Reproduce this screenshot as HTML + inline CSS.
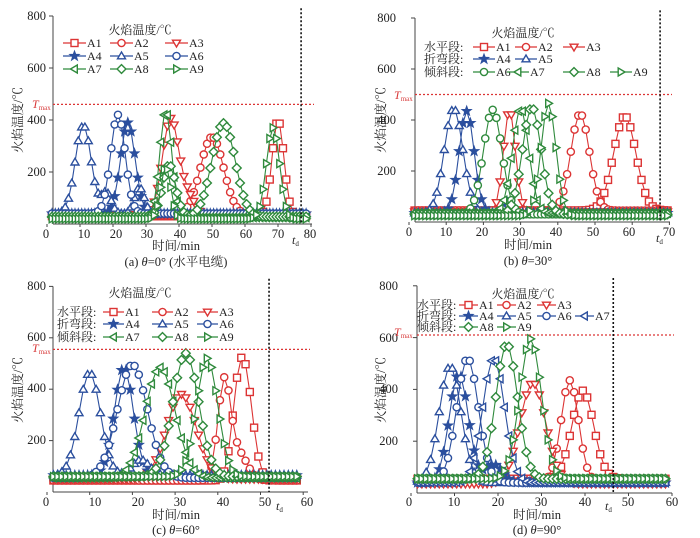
<!DOCTYPE html>
<html><head><meta charset="utf-8">
<style>
html,body{margin:0;padding:0;background:#fff;}
svg{display:block;font-family:"Liberation Serif","Noto Serif CJK SC",serif;}
.t{font-size:12.5px;fill:#222;}
.l{font-size:12px;fill:#222;}
</style></head>
<body>
<svg id="s" width="700" height="538" viewBox="0 0 700 538" xmlns="http://www.w3.org/2000/svg">
<g id="plots"></g>
<g class="t" text-anchor="end">
<text x="46" y="20">800</text><text x="46" y="72">600</text><text x="46" y="124">400</text><text x="46" y="176">200</text>
<text x="396" y="22">800</text><text x="396" y="73">600</text><text x="396" y="124">400</text><text x="396" y="175">200</text>
<text x="46" y="290">800</text><text x="46" y="341">600</text><text x="46" y="392">400</text><text x="46" y="444">200</text>
<text x="398" y="290">800</text><text x="398" y="342">600</text><text x="398" y="393">400</text><text x="398" y="445">200</text>
</g>
<g class="t" text-anchor="middle">
<text x="46" y="238">0</text><text x="84" y="238">10</text><text x="116" y="238">20</text><text x="147" y="238">30</text><text x="180" y="238">40</text><text x="213" y="238">50</text><text x="246" y="238">60</text><text x="278" y="238">70</text><text x="310" y="238">80</text>
<text x="409" y="236">0</text><text x="446" y="236">10</text><text x="482" y="236">20</text><text x="519" y="236">30</text><text x="556" y="236">40</text><text x="593" y="236">50</text><text x="629" y="236">60</text><text x="669" y="236">70</text>
<text x="46" y="506">0</text><text x="95" y="506">10</text><text x="138" y="506">20</text><text x="180" y="506">30</text><text x="223" y="506">40</text><text x="265" y="506">50</text><text x="307" y="506">60</text>
<text x="409" y="506">0</text><text x="454" y="506">10</text><text x="498" y="506">20</text><text x="541" y="506">30</text><text x="585" y="506">40</text><text x="628" y="506">50</text><text x="672" y="506">60</text>
<text x="176" y="250">时间/min</text><text x="176" y="266">(a) <tspan font-style="italic">θ</tspan>=0° (水平电缆)</text>
<text x="528" y="249">时间/min</text><text x="528" y="265">(b) <tspan font-style="italic">θ</tspan>=30°</text>
<text x="176" y="519">时间/min</text><text x="176" y="534">(c) <tspan font-style="italic">θ</tspan>=60°</text>
<text x="537" y="519">时间/min</text><text x="537" y="534">(d) <tspan font-style="italic">θ</tspan>=90°</text>
</g>
<g class="t" text-anchor="middle">
<text transform="translate(22,120) rotate(-90)">火焰温度/℃</text>
<text transform="translate(385,120) rotate(-90)">火焰温度/℃</text>
<text transform="translate(22,390) rotate(-90)">火焰温度/℃</text>
<text transform="translate(385,390) rotate(-90)">火焰温度/℃</text>
</g>
<g fill="#d83a3a" font-style="italic" font-size="12">
<text x="32" y="108">T<tspan font-size="7" font-style="normal" dy="2">max</tspan></text>
<text x="394" y="99">T<tspan font-size="7" font-style="normal" dy="2">max</tspan></text>
<text x="32" y="352">T<tspan font-size="7" font-style="normal" dy="2">max</tspan></text>
<text x="394" y="336">T<tspan font-size="7" font-style="normal" dy="2">max</tspan></text>
</g>
<g font-style="italic" font-size="12" fill="#222">
<text x="292" y="244">t<tspan font-size="7" font-style="normal" dy="2">d</tspan></text>
<text x="656" y="242">t<tspan font-size="7" font-style="normal" dy="2">d</tspan></text>
<text x="276" y="510">t<tspan font-size="7" font-style="normal" dy="2">d</tspan></text>
<text x="605" y="510">t<tspan font-size="7" font-style="normal" dy="2">d</tspan></text>
</g>
<g class="l" text-anchor="middle">
<text x="140" y="34">火焰温度/℃</text>
<text x="523" y="37">火焰温度/℃</text>
<text x="140" y="297">火焰温度/℃</text>
<text x="523" y="298">火焰温度/℃</text>
</g>
<g class="l">
<text x="424" y="51">水平段:</text><text x="424" y="63">折弯段:</text><text x="424" y="76">倾斜段:</text>
<text x="57" y="316">水平段:</text><text x="57" y="328">折弯段:</text><text x="57" y="341">倾斜段:</text>
<text x="417" y="309">水平段:</text><text x="417" y="320">折弯段:</text><text x="417" y="331">倾斜段:</text>
</g>
<g id="leg"></g>
</svg>
<script>
var NS="http://www.w3.org/2000/svg";
var R="#dc3434",B="#2b4f9e",G="#2f8a3c";
function el(p,n,a){var e=document.createElementNS(NS,n);for(var k in a)e.setAttribute(k,a[k]);p.appendChild(e);return e;}
function marker(g,m,x,y,c){var r=4,a={fill:"#fff",stroke:c,"stroke-width":1.4};
 if(m=="sq"){a.x=x-r+0.5;a.y=y-r+0.5;a.width=2*r-1;a.height=2*r-1;el(g,"rect",a);return;}
 if(m=="ci"){a.cx=x;a.cy=y;a.r=r-0.4;el(g,"circle",a);return;}
 var pts;
 if(m=="dn")pts=[[x-r,y-r*0.7],[x+r,y-r*0.7],[x,y+r]];
 else if(m=="up")pts=[[x-r,y+r*0.7],[x+r,y+r*0.7],[x,y-r]];
 else if(m=="lt")pts=[[x+r*0.7,y-r],[x+r*0.7,y+r],[x-r,y]];
 else if(m=="rt")pts=[[x-r*0.7,y-r],[x-r*0.7,y+r],[x+r,y]];
 else if(m=="di")pts=[[x,y-r*1.1],[x+r*1.1,y],[x,y+r*1.1],[x-r*1.1,y]];
 else if(m=="st"){pts=[];for(var i=0;i<10;i++){var rr=i%2?r*0.45:r*1.1,an=-Math.PI/2+i*Math.PI/5;pts.push([x+rr*Math.cos(an),y+rr*Math.sin(an)]);}a.fill=c;}
 a.points=pts.map(function(p){return p[0].toFixed(1)+","+p[1].toFixed(1)}).join(" ");el(g,"polygon",a);}
var P=el(document.getElementById("plots"),"g",{});
function panel(o){
 var X=function(t){return o.x0+t*o.sx},Y=function(v){return o.y0-v*o.sy};
 el(P,"line",{x1:o.ax,y1:o.y0,x2:o.ax,y2:Y(800),stroke:"#444","stroke-width":1});
 el(P,"line",{x1:o.ax,y1:o.y0,x2:o.xr,y2:o.y0,stroke:"#444","stroke-width":1});
 for(var v=200;v<=800;v+=200)el(P,"line",{x1:o.ax-4,y1:Y(v),x2:o.ax,y2:Y(v),stroke:"#444"});
 for(var t=0;t<=o.tm;t+=10)el(P,"line",{x1:X(t),y1:o.y0,x2:X(t),y2:o.y0+3,stroke:"#444"});
 o.s.forEach(function(s){
  var g=el(P,"g",{}),pts=[];
  for(var t=1.5;t<=o.tend;t+=1.0){var v=s[3];
   s[4].forEach(function(p){v+=p[1]*Math.exp(-Math.pow((t-p[0])/p[2],2)/2);});
   pts.push([X(t),Y(v)]);}
  el(g,"polyline",{points:pts.map(function(p){return p[0].toFixed(1)+","+p[1].toFixed(1)}).join(" "),fill:"none",stroke:s[1],"stroke-width":1.1});
  pts.forEach(function(p){marker(g,s[2],p[0],p[1],s[1]);});
 });
 el(P,"line",{x1:o.ax,y1:Y(o.tmax),x2:o.xr+2,y2:Y(o.tmax),stroke:R,"stroke-width":1.3,"stroke-dasharray":"2,2"});
 el(P,"line",{x1:X(o.td),y1:Y(830),x2:X(o.td),y2:o.y0,stroke:"#111","stroke-width":1.6,"stroke-dasharray":"2,2"});
}
panel({ax:53,x0:47,sx:3.3,y0:224,sy:0.26,xr:312,tm:80,tend:79,tmax:460,td:77,s:[
 ["A1",R,"sq",30,[[70,370,1.8]]],["A2",R,"ci",35,[[50,300,3.5]]],["A3",R,"dn",35,[[37.5,370,2.5],[43,60,2]]],
 ["A4",B,"st",40,[[24.5,350,2.2]]],["A5",B,"up",40,[[11,340,2.4],[18,80,1.5],[28,100,1.5]]],["A6",B,"ci",40,[[21.5,380,2.2]]],
 ["A7",G,"lt",25,[[36,410,1.8]]],["A8",G,"di",28,[[53.5,360,3.5],[37,200,2]]],["A9",G,"rt",20,[[68.5,350,2],[36,200,1.5]]]]});
panel({ax:415,x0:409,sx:3.72,y0:222,sy:0.255,xr:670,tm:70,tend:70,tmax:500,td:67.5,s:[
 ["A1",R,"sq",45,[[58,370,3]]],["A2",R,"ci",45,[[46,380,2.5]]],["A3",R,"dn",40,[[27,400,1.6]]],
 ["A4",B,"st",35,[[15.5,400,2]]],["A5",B,"up",35,[[12,410,2.5],[27,50,1]]],
 ["A6",G,"ci",30,[[22.5,410,2.5]]],["A7",G,"lt",35,[[30,410,2.2]]],["A8",G,"di",30,[[33,420,2.5]]],["A9",G,"rt",25,[[37.5,440,2]]]]});
panel({ax:53,x0:47,sx:4.27,y0:492,sy:0.257,xr:308,tm:60,tend:58.5,tmax:555,td:52,s:[
 ["A1",R,"sq",45,[[46.5,370,1.8],[44.5,200,1.5]]],["A2",R,"ci",45,[[41.5,380,1.5],[45,100,2]]],["A3",R,"dn",50,[[31.5,330,3.5]]],
 ["A4",B,"st",65,[[18,420,2.2]]],["A5",B,"up",65,[[10,400,2.5],[22,60,2]]],["A6",B,"ci",55,[[20,440,3.5]]],
 ["A7",G,"lt",55,[[26.5,430,3.5]]],["A8",G,"di",60,[[32.5,480,3]]],["A9",G,"rt",60,[[37.5,460,2.5]]]]});
panel({ax:417,x0:411,sx:4.35,y0:493,sy:0.259,xr:672,tm:60,tend:58.5,tmax:610,td:46.5,s:[
 ["A1",R,"sq",55,[[39.5,340,2.5]]],["A2",R,"ci",45,[[36.5,390,2]]],["A3",R,"dn",35,[[28,390,3]]],
 ["A4",B,"st",40,[[11,420,2.2],[19,70,2]]],["A5",B,"up",40,[[9,450,2.5]]],["A6",B,"ci",40,[[13,480,2.5]]],
 ["A7",B,"lt",40,[[19,480,2.5]]],["A8",G,"di",55,[[22,520,2.5]]],["A9",G,"rt",55,[[27.5,540,2.5]]]]});
var L=document.getElementById("leg");
function leg(x,y,w,m,c,lab){el(L,"line",{x1:x,y1:y,x2:x+w,y2:y,stroke:c,"stroke-width":1.2});marker(L,m,x+w/2,y,c);
 var t=el(L,"text",{x:x+w+1,y:y+4,"class":"l"});t.textContent=lab;}
var a=[[63,110,165],[43,56,69]];
var ms=[["sq",R,"A1"],["ci",R,"A2"],["dn",R,"A3"],["st",B,"A4"],["up",B,"A5"],["ci",B,"A6"],["lt",G,"A7"],["di",G,"A8"],["rt",G,"A9"]];
for(var i=0;i<9;i++)leg(a[0][i%3],a[1][Math.floor(i/3)],23,ms[i][0],ms[i][1],ms[i][2]);
var bm=[[473,47,"sq",R,"A1"],[515,47,"ci",R,"A2"],[563,47,"dn",R,"A3"],[473,59,"st",B,"A4"],[515,59,"up",B,"A5"],
 [473,72,"ci",G,"A6"],[507,72,"lt",G,"A7"],[563,72,"di",G,"A8"],[610,72,"rt",G,"A9"]];
bm.forEach(function(b){leg(b[0],b[1],22,b[2],b[3],b[4]);});
for(var i=0;i<9;i++)leg([103,152,197][i%3],[312,324,337][Math.floor(i/3)],21,ms[i][0],ms[i][1],ms[i][2]);
var dm=[[459,305,"sq",R,"A1"],[497,305,"ci",R,"A2"],[537,305,"dn",R,"A3"],[459,316,"st",B,"A4"],[497,316,"up",B,"A5"],[537,316,"ci",B,"A6"],[575,316,"lt",B,"A7"],
 [459,327,"di",G,"A8"],[497,327,"rt",G,"A9"]];
dm.forEach(function(b){leg(b[0],b[1],19,b[2],b[3],b[4]);});
</script>
</body></html>
